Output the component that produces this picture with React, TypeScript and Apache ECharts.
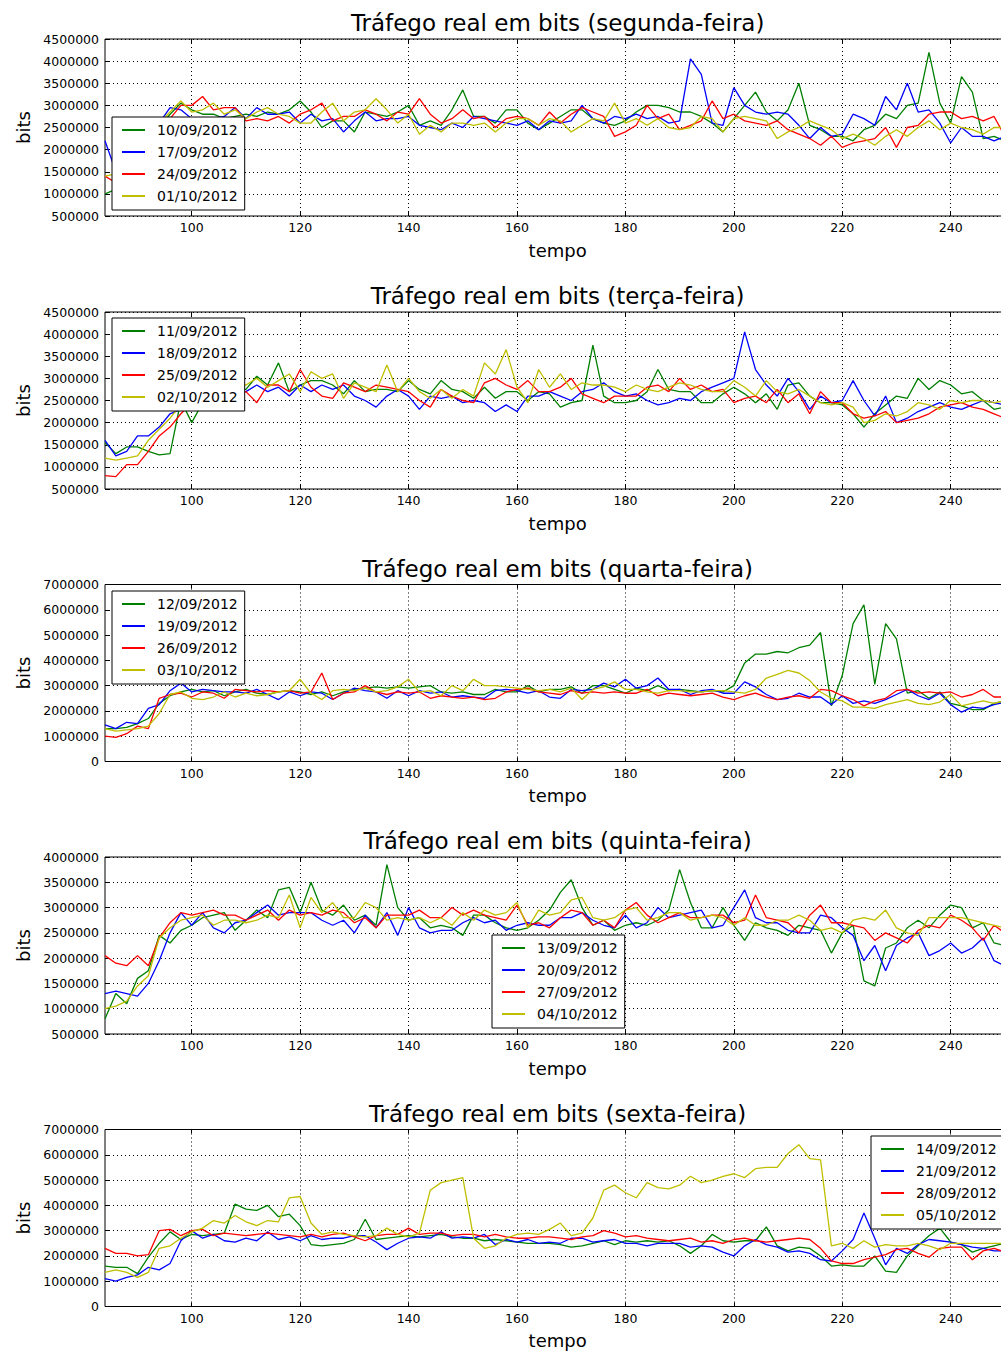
import React, { useEffect, useRef } from "react";
import * as echarts from "echarts";

// x positions (tempo)
const tempo = [84,86,88,90,92,94,96,98,100,102,104,106,108,110,112,114,116,118,120,122,124,126,128,130,132,134,136,138,140,142,144,146,148,150,152,154,156,158,160,162,164,166,168,170,172,174,176,178,180,182,184,186,188,190,192,194,196,198,200,202,204,206,208,210,212,214,216,218,220,222,224,226,228,230,232,234,236,238,240,242,244,246,248,250];

const X_TICKS = [100, 120, 140, 160, 180, 200, 220, 240];

// legend labels
const seg_dates = ["10/09/2012", "17/09/2012", "24/09/2012", "01/10/2012"];
const ter_dates = ["11/09/2012", "18/09/2012", "25/09/2012", "02/10/2012"];
const qua_dates = ["12/09/2012", "19/09/2012", "26/09/2012", "03/10/2012"];
const qui_dates = ["13/09/2012", "20/09/2012", "27/09/2012", "04/10/2012"];
const sex_dates = ["14/09/2012", "21/09/2012", "28/09/2012", "05/10/2012"];

// values in thousands of bits
const seg_1009 = [1000,1100,1300,1600,2000,2500,2800,3050,2900,2800,2800,2700,2750,2800,2750,2850,2800,2900,3100,2850,2500,2650,2650,2400,2850,2800,2750,2850,3000,2550,2650,2550,2900,3350,2750,2750,2600,2900,2900,2600,2450,2600,2750,2900,2900,2700,2600,2550,2650,2850,3000,3000,2950,2850,2850,2750,2600,2400,2700,3000,3300,2850,2650,2900,3500,2550,2450,2300,2300,2200,2450,2550,2800,2700,3000,3050,4200,3050,2600,3650,3300,2250,2300,2200];
const seg_1709 = [2200,1500,1700,2000,2300,2600,2950,2900,2700,2650,2700,2750,2950,2700,2950,2800,2800,2850,2600,2800,2650,2700,2400,2650,2850,2650,2700,2700,2750,2550,2500,2450,2600,2500,2750,2700,2650,2600,2550,2650,2450,2650,2600,2650,3000,2700,2600,2750,2700,2800,2700,2750,2600,2650,4050,3700,2600,2550,3400,3000,2850,2800,2850,2800,2550,2250,2500,2300,2350,2800,2700,2550,3200,2900,3500,2850,2900,2600,2150,2500,2300,2300,2200,2300];
const seg_2409 = [1400,1250,1500,1800,2100,2400,2700,3000,3000,3200,2900,2950,2950,2650,2700,2650,2750,2600,2800,2900,3050,2650,2750,2750,2900,2800,2650,2850,2800,3150,2800,2600,2700,2900,2700,2750,2500,2700,2750,2700,2550,2850,2600,2800,2950,2850,2750,2300,2400,2550,3000,2700,2800,2450,2550,2650,3100,2700,2800,2650,2600,2550,2650,2450,2350,2250,2100,2300,2050,2150,2200,2250,2500,2050,2500,2550,2800,2850,2850,2700,2750,2650,2750,2300];
const seg_0110 = [1400,1450,1700,2000,2300,2600,2850,3100,2850,2900,3050,2800,2900,2700,2850,2950,2800,2750,2600,2600,2850,3050,2650,2850,2900,3150,2900,2600,2800,2350,2550,2400,2600,2600,2550,2600,2400,2600,2700,2700,2550,2700,2650,2400,2550,2700,2650,3050,2600,2700,2550,2700,2500,2450,2500,2750,2700,2400,2700,2750,2700,2650,2250,2400,2500,2650,2550,2450,2250,2350,2250,2100,2300,2450,2300,2500,2650,2450,2600,2500,2450,2350,2500,2500];

const ter_1109 = [1550,1300,1450,1450,1350,1270,1300,2500,2000,2450,2600,2700,2750,2750,3050,2850,3350,2700,2850,2950,2950,2850,2650,2950,2700,2750,2750,2700,2950,2750,2650,2950,2750,2700,2550,2800,2550,2700,2700,2500,2700,2650,2350,2450,2500,3750,2600,2450,2450,2500,2700,3200,2750,2700,2700,2450,2450,2650,2800,2650,2450,2650,2300,2850,2900,2600,2450,2450,2400,2200,1900,2200,2400,2600,2550,3000,2750,2950,2850,2650,2700,2500,2300,2350];
const ter_1809 = [1600,1250,1350,1700,1700,1900,2200,2300,2350,2450,2550,2650,2750,2700,2850,2700,2800,2600,2850,2700,2850,2750,2850,2600,2500,2350,2600,2750,2600,2300,2600,2550,2600,2450,2500,2450,2250,2400,2250,2600,2600,2700,2600,2500,2700,2750,2900,2700,2600,2650,2500,2400,2450,2550,2500,2700,2800,2900,3000,4050,3200,2850,2600,3000,2700,2300,2600,2450,2500,2950,2500,2150,2600,2000,2100,2250,2350,2450,2350,2300,2400,2500,2450,2400];
const ter_2509 = [800,780,1050,1050,1350,1700,1900,2200,2450,2600,2700,2750,2600,2700,2450,2850,2850,2700,3200,2800,2600,2550,2900,2800,2700,2850,2800,2750,2700,2500,2350,2750,2600,2500,2450,2900,3000,2850,2750,2950,2700,2700,2800,3000,2650,2550,2450,2600,2600,2600,2800,2850,2700,3000,2750,2850,2700,2750,2450,2550,2600,2450,2750,2450,2650,2200,2700,2450,2450,2200,2100,2150,2250,2000,2050,2100,2200,2350,2400,2450,2350,2300,2200,2100];
const ter_0210 = [1200,1150,1200,1250,1600,1850,2100,2400,2600,2750,2800,2900,2850,2850,3000,2800,2950,3100,2700,3150,3000,3100,2550,2900,2800,2700,3300,2700,3000,2700,2550,2750,2550,2750,2600,3350,3100,3650,2800,2450,3200,2800,3100,2750,2900,2850,2850,2800,2700,2850,2750,2700,2800,2900,2850,2750,2700,2700,2950,2800,2600,2950,2700,2650,2750,2600,2450,2400,2450,2350,2000,2050,2200,2150,2250,2450,2400,2300,2500,2450,2500,2500,2450,2500];

const qua_1209 = [1300,1300,1350,1500,1700,2300,2600,2750,2850,2750,2800,2600,2750,2850,2700,2650,2750,2800,2750,2650,2750,2600,2750,2850,2900,2950,2900,2950,2900,2950,3000,2750,2700,2750,2650,2650,2850,2750,2750,3000,2750,2850,2850,2950,2700,3000,3000,2850,2700,2900,2800,3000,2800,2850,2800,2750,2800,2750,3000,3900,4250,4250,4350,4300,4500,4600,5100,2200,3400,5450,6200,3050,5450,4850,2700,2800,2500,2750,2300,2200,2050,2050,2300,2400];
const qua_1909 = [1450,1300,1550,1500,2100,2250,2800,3100,2750,2850,2800,2750,2750,2700,2850,2650,2450,2750,2600,2750,2700,2450,2700,2900,2800,2750,2500,2800,2600,2800,2700,2750,2550,2600,2550,2500,2800,2850,2800,2700,2800,2550,2500,2850,2800,2850,3100,2950,3250,2900,3000,3300,2850,2850,2650,2800,2850,2700,2700,3150,2950,2650,2450,2500,2700,2550,2550,2250,2600,2300,2400,2300,2450,2650,2850,2600,2450,2700,2250,1950,2150,2100,2250,2350];
const qua_2609 = [1000,950,1100,1400,1300,2500,2650,2700,2550,2750,2700,2500,2850,2800,2750,2800,2750,2800,2700,2750,3500,2450,2700,2750,3000,2750,2650,2750,2700,2750,2500,2600,2550,2500,2550,2450,2500,2750,2850,2900,2750,2700,2650,2800,2700,2750,2700,2750,2700,2700,2850,2600,2700,2650,2600,2650,2700,2550,2450,2600,2700,2550,2450,2550,2600,2500,2850,2800,2600,2450,2200,2400,2500,2800,2850,2700,2750,2700,2750,2550,2650,2850,2550,2550];
const qua_0310 = [1300,1200,1250,1300,1400,1900,2650,2750,2500,2450,2550,2750,2550,2700,2600,2650,2750,2800,3250,2700,2450,2800,2850,2800,2900,2750,2800,2950,3250,2750,2800,2600,3000,2800,3250,3000,3000,2950,2900,2850,2800,2850,2750,2900,2450,2850,2950,3150,2850,2850,2750,2700,2800,2800,2750,2750,2800,2800,2750,2700,2850,3300,3450,3600,3500,3200,2750,2500,2400,2150,2150,2100,2250,2350,2450,2300,2250,2350,2650,2200,2300,2400,2300,2400];

const qui_1309 = [800,1300,1100,1600,1750,2450,2300,2550,2650,2800,2850,2900,2550,2750,2950,2800,3350,3400,2900,3500,2950,2850,3050,2750,2850,2650,3850,3000,2750,2800,2600,2650,2600,2450,2850,2850,2700,2600,2550,2600,2750,2950,3300,3550,3000,2650,2750,2550,2650,2700,2650,2750,2950,3750,3100,2600,2600,3000,2650,2350,2700,2600,2550,2450,2650,2600,2550,2100,2500,2650,1550,1450,2200,2300,2600,2750,2600,2850,3050,3000,2600,2700,2300,2250];
const qui_2009 = [1300,1350,1300,1250,1500,1950,2500,2900,2650,2900,2600,2500,2700,2750,2900,3050,2850,2900,2900,2900,2750,2650,2750,2500,2850,2600,2900,2450,3000,2600,2500,2550,2550,2700,2800,2700,2750,2550,2650,2700,2650,2650,2800,2800,2900,2750,2650,2600,2850,2600,2700,3000,2800,2850,2900,2950,2600,2650,3000,3350,2800,2700,2700,2550,2500,2500,2850,2800,2600,2450,1950,2250,1750,2250,2400,2500,2050,2150,2300,2100,2200,2400,1950,1850];
const qui_2709 = [2050,1900,1850,2050,1850,2400,2700,2900,2850,2900,2950,2850,2850,2750,2850,2950,2750,2950,2850,2900,2850,2950,2900,2700,2800,2600,2850,2850,2850,2950,2800,2800,3000,2850,2950,2850,2800,2750,3050,2650,2700,2600,2800,2950,2900,2650,2750,2600,2950,3100,2850,2700,2800,2900,2800,2800,2850,2850,2700,2750,3250,2800,2750,2700,2500,2850,3050,2700,2700,2650,2600,2350,2500,2400,2300,2550,2650,2600,2850,2750,2600,2350,2650,2500];
const qui_0410 = [1000,1050,1150,1450,1650,2400,2600,2750,2800,2850,2650,2750,2750,2700,2750,2850,2800,3250,2600,3200,2900,3100,2800,2800,3100,3000,2750,2800,2750,2800,2700,2800,2650,2900,2750,2950,2850,2900,3100,2600,2950,2850,2900,3150,3200,2800,2750,2800,2950,3000,2750,2800,2900,2900,2750,2800,2850,2800,2650,2800,2650,2650,2750,2750,2850,2750,2550,2600,2500,2750,2800,2750,2950,2600,2500,2450,2800,2800,2800,2800,2750,2700,2650,2600];

const sex_1409 = [1600,1550,1550,1300,1950,2500,2950,2650,2850,2800,2850,2900,4050,3850,3800,4000,3550,3650,3200,2450,2400,2450,2500,2650,3450,2650,2700,2750,2800,2750,2800,2850,2750,2700,2700,2600,2650,2600,2550,2500,2500,2500,2450,2350,2400,2500,2600,2450,2600,2550,2600,2550,2600,2400,2100,2400,2850,2600,2550,2600,2600,3150,2400,2200,2350,2300,2000,1600,1650,1600,1600,2000,1400,1350,2000,2400,2800,3100,2550,2450,2150,2300,2400,2500];
const sex_2109 = [1100,1000,1150,1250,1550,1450,1700,2600,3000,2700,2850,2600,2550,2700,2600,2950,2650,2750,2600,2800,2650,2700,2700,2800,2800,2550,2250,2500,2700,2750,2700,2950,2700,2750,2700,2850,2450,2650,2550,2650,2500,2550,2500,2700,2700,2550,2600,2650,2500,2500,2400,2500,2500,2500,2350,2400,2350,2150,2000,2400,2650,2450,2350,2150,2200,2100,1850,1800,2200,2650,3700,2700,1650,2300,2100,2450,2650,2600,2550,2450,2350,2300,2200,2200];
const sex_2809 = [2300,2100,2100,2000,2050,3000,3050,2800,3000,3050,2800,2900,2850,2800,2850,2900,2850,2800,2750,2850,2750,2850,2900,2750,2600,2800,2850,2850,3100,2850,2900,2900,2800,2850,2850,2750,2850,2750,2700,2700,2750,2750,2700,2650,2750,2800,3000,2900,2750,2800,2700,2650,2600,2650,2700,2550,2600,2500,2650,2700,2600,2550,2600,2650,2700,2650,2300,1800,1700,1700,1850,1950,2050,2250,2300,2100,1950,2300,2350,2350,1850,2200,2300,2150];
const sex_0510 = [1350,1450,1350,1150,1350,2300,2400,2700,2950,3100,3400,3300,3600,3350,3200,3400,3350,4300,4350,3300,2850,2950,2850,2800,2750,2800,3100,2850,2750,2900,4600,4900,5000,5100,2700,2300,2400,2700,2850,2900,2850,3050,3300,2800,2900,3500,4600,4800,4500,4300,4900,4700,4650,4800,5150,4900,5000,5150,5250,5100,5450,5500,5500,6050,6400,5850,5800,2400,2500,2300,2600,2350,2450,2400,2400,2500,2400,2250,2500,2500,2500,2500,2500,2500];

const panels = [
  { title: "Tráfego real em bits (segunda-feira)", names: seg_dates, values: [seg_1009, seg_1709, seg_2409, seg_0110], yMin: 500000, yMax: 4500000, yStep: 500000 },
  { title: "Tráfego real em bits (terça-feira)", names: ter_dates, values: [ter_1109, ter_1809, ter_2509, ter_0210], yMin: 500000, yMax: 4500000, yStep: 500000 },
  { title: "Tráfego real em bits (quarta-feira)", names: qua_dates, values: [qua_1209, qua_1909, qua_2609, qua_0310], yMin: 0, yMax: 7000000, yStep: 1000000 },
  { title: "Tráfego real em bits (quinta-feira)", names: qui_dates, values: [qui_1309, qui_2009, qui_2709, qui_0410], yMin: 500000, yMax: 4000000, yStep: 500000 },
  { title: "Tráfego real em bits (sexta-feira)", names: sex_dates, values: [sex_1409, sex_2109, sex_2809, sex_0510], yMin: 0, yMax: 7000000, yStep: 1000000 },
];

// layout / style
const FONT = "DejaVu Sans";
const COLORS = ["#008000", "#0000ff", "#ff0000", "#bfbf00"];
const X_MIN = 84;
const X_MAX = 251;
const CHART_W = 1020;
const PLOT_LEFT = 105;
const PLOT_W = 905.3;
const PLOT_H = 177;
const TOPS = [39, 312, 584.5, 857, 1129.5];
const LEGEND_POS = [[112, 117], [112, 318], [112, 591], [492, 935], [871, 1136]];
const LEGEND_ICON = "path://M0 0H23V2H0Z M29.95 0H30V2H29.95Z";

export default function App() {
  const ref = useRef<HTMLDivElement>(null);

  useEffect(() => {
    if (!ref.current) return;
    const chart = echarts.init(ref.current, null, { renderer: "svg" });

    const grids: any[] = [];
    const xAxes: any[] = [];
    const yAxes: any[] = [];
    const series: any[] = [];
    const legends: any[] = [];
    const graphics: any[] = [];
    const dotted = { color: "#000", type: [1, 3], width: 1 };
    const tickStyle = { color: "#000", width: 1 };
    const plotCenter = PLOT_LEFT + PLOT_W / 2;

    panels.forEach((p, i) => {
      const top = TOPS[i];
      grids.push({
        left: PLOT_LEFT, width: PLOT_W, top, height: PLOT_H,
        outerBoundsMode: "none", containLabel: false,
        show: true, borderColor: "#000", borderWidth: 1, backgroundColor: "transparent",
      });
      xAxes.push({
        type: "value", gridIndex: i, position: "bottom", min: X_MIN, max: X_MAX,
        name: "tempo", nameLocation: "middle", nameGap: 25,
        nameTextStyle: { fontFamily: FONT, fontSize: 18, color: "#000" },
        axisLine: { show: false },
        axisTick: { show: true, inside: true, length: 4, customValues: X_TICKS, lineStyle: tickStyle },
        axisLabel: { show: true, customValues: X_TICKS, margin: 5, fontFamily: FONT, fontSize: 12.5, color: "#000" },
        splitLine: { show: true, lineStyle: dotted },
      });
      xAxes.push({
        type: "value", gridIndex: i, position: "top", min: X_MIN, max: X_MAX,
        axisLine: { show: false },
        axisTick: { show: true, inside: true, length: 4, customValues: X_TICKS, lineStyle: tickStyle },
        axisLabel: { show: false },
        splitLine: { show: false },
      });
      yAxes.push({
        type: "value", gridIndex: i, min: p.yMin, max: p.yMax, interval: p.yStep,
        name: "bits", nameLocation: "middle", nameGap: 70, nameRotate: 90,
        nameTextStyle: { fontFamily: FONT, fontSize: 18, color: "#000" },
        axisLine: { show: false },
        axisTick: { show: true, inside: true, length: 4, lineStyle: tickStyle },
        axisLabel: { margin: 6, fontFamily: FONT, fontSize: 12.5, color: "#000", formatter: (v: number) => String(v) },
        splitLine: { show: true, lineStyle: dotted },
      });
      p.values.forEach((vals, k) => {
        series.push({
          name: p.names[k], type: "line", xAxisIndex: i * 2, yAxisIndex: i,
          data: tempo.map((x, j) => [x, vals[j] * 1000]),
          showSymbol: false, symbol: "none", clip: true,
          lineStyle: { color: COLORS[k], width: 1.3 },
          itemStyle: { color: COLORS[k] },
          emphasis: { disabled: true },
        });
      });
      legends.push({
        show: true, orient: "vertical", left: LEGEND_POS[i][0], top: LEGEND_POS[i][1],
        data: p.names, icon: LEGEND_ICON, itemWidth: 30, itemHeight: 2, itemGap: 0,
        padding: [2, 7, 3, 10], borderColor: "#000", borderWidth: 1, borderRadius: 0,
        backgroundColor: "#fff", selectedMode: false,
        itemStyle: { borderWidth: 0 },
        textStyle: { fontFamily: FONT, fontSize: 14, color: "#000", lineHeight: 22 },
      });
      graphics.push({
        type: "text", x: plotCenter, y: top - 16,
        style: {
          text: p.title, fontFamily: FONT, fontSize: 23, fill: "#000",
          align: "center", verticalAlign: "middle", textAlign: "center", textVerticalAlign: "middle",
        },
      });
    });

    chart.setOption({
      animation: false,
      backgroundColor: "#fff",
      grid: grids,
      xAxis: xAxes,
      yAxis: yAxes,
      legend: legends,
      series,
      graphic: graphics,
    });

    return () => chart.dispose();
  }, []);

  return (
    <div style={{ position: "absolute", left: 0, top: 0, width: 1001, height: 1355, overflow: "hidden" }}>
      <div ref={ref} style={{ width: CHART_W, height: 1355 }} />
    </div>
  );
}
